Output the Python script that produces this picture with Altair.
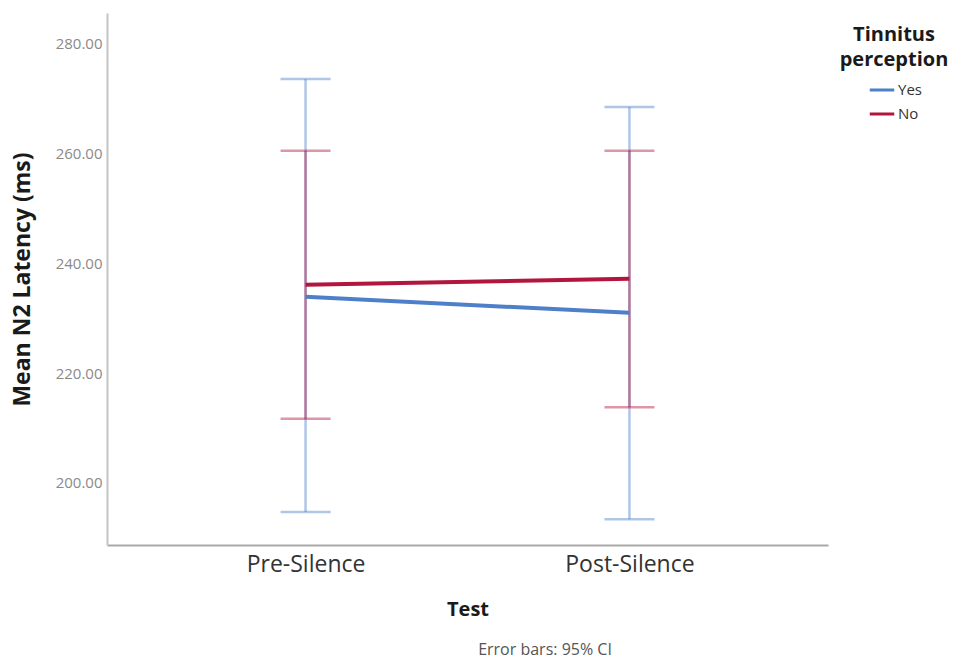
import altair as alt
import pandas as pd

# Test sessions and tinnitus-perception groups
tests = ["Pre-Silence", "Post-Silence"]
groups = ["Yes", "No"]

# Mean N2 latency (ms) with 95% CI bounds, per group, per test
mean_yes = [233.9, 231.0]
lower_yes = [194.7, 193.4]
upper_yes = [273.6, 268.5]

mean_no = [236.1, 237.2]
lower_no = [211.7, 213.8]
upper_no = [260.5, 260.5]

y_ticks = [200, 220, 240, 260, 280]

colors = ["#4d80c9", "#b3163c"]
FONT = "Open Sans"

rows = []
for g, m, lo, hi in [("Yes", mean_yes, lower_yes, upper_yes),
                     ("No", mean_no, lower_no, upper_no)]:
    for t, mv, lv, hv in zip(tests, m, lo, hi):
        rows.append({"Test": t, "Tinnitus": g, "mean": mv, "lo": lv, "hi": hv})
df = pd.DataFrame(rows)

x_enc = alt.X(
    "Test:N",
    sort=tests,
    scale=alt.Scale(type="point", padding=0.613),
    axis=alt.Axis(
        title="Test",
        labelAngle=0,
        labelFontSize=23,
        labelColor="#333333",
        labelPadding=8,
        ticks=False,
        domainColor="#a9a9a9",
        domainWidth=2,
        titleFontSize=20,
        titleFontWeight="bold",
        titleColor="#1a1a1a",
        titlePadding=23,
    ),
)

y_scale = alt.Scale(domain=[188.7, 285.6], nice=False, zero=False)
y_axis = alt.Axis(
    title="Mean N2 Latency (ms)",
    values=y_ticks,
    format=".2f",
    grid=False,
    ticks=False,
    labelFontSize=15,
    labelColor="#8a8a8a",
    labelPadding=5,
    domainColor="#c4c4c4",
    domainWidth=2,
    titleFontSize=23,
    titleFontWeight="bold",
    titleColor="#1a1a1a",
    titlePadding=21,
)

color_scale = alt.Scale(domain=groups, range=colors)

legend = alt.Legend(
    title=["Tinnitus", "perception"],
    orient="none",
    legendX=733,
    legendY=12,
    titleFontSize=20,
    titleFontWeight="bold",
    titleColor="#1a1a1a",
    titleAnchor="middle",
    titleAlign="center",
    titleLineHeight=25,
    titlePadding=6,
    symbolType="stroke",
    symbolStrokeWidth=3,
    symbolSize=600,
    symbolOpacity=1,
    symbolOffset=2,
    labelFontSize=15,
    labelColor="#333333",
    labelOffset=2,
    rowPadding=2,
)
color_enc = alt.Color("Tinnitus:N", scale=color_scale, sort=groups, legend=legend)

base = alt.Chart(df)

ci_rule = base.mark_rule(strokeWidth=2.5, opacity=0.45).encode(
    x=x_enc,
    y=alt.Y("lo:Q", scale=y_scale, axis=y_axis),
    y2="hi:Q",
    color=color_enc,
)

cap_lo = base.mark_tick(size=50, thickness=2.5, opacity=0.45).encode(
    x=x_enc,
    y=alt.Y("lo:Q", scale=y_scale),
    color=color_enc,
)

cap_hi = base.mark_tick(size=50, thickness=2.5, opacity=0.45).encode(
    x=x_enc,
    y=alt.Y("hi:Q", scale=y_scale),
    color=color_enc,
)

mean_line = base.mark_line(strokeWidth=4).encode(
    x=x_enc,
    y=alt.Y("mean:Q", scale=y_scale),
    color=color_enc,
    order=alt.Order("Test:N"),
)

footnote = alt.Chart(pd.DataFrame({"note": ["Error bars: 95% CI"]})).mark_text(
    fontSize=16, color="#555555", font=FONT
).encode(
    x=alt.value(438),
    y=alt.value(637),
    text="note:N",
)

chart = (
    alt.layer(ci_rule, cap_lo, cap_hi, mean_line, footnote)
    .properties(
        width=721,
        height=532,
        padding={"left": 107, "top": 13, "right": 128, "bottom": 115},
        autosize=alt.AutoSizeParams(type="none"),
        background="white",
    )
    .configure(font=FONT)
    .configure_view(stroke="transparent", strokeWidth=0)
)

chart.save("out.html", embed_options={"renderer": "svg", "actions": False})
